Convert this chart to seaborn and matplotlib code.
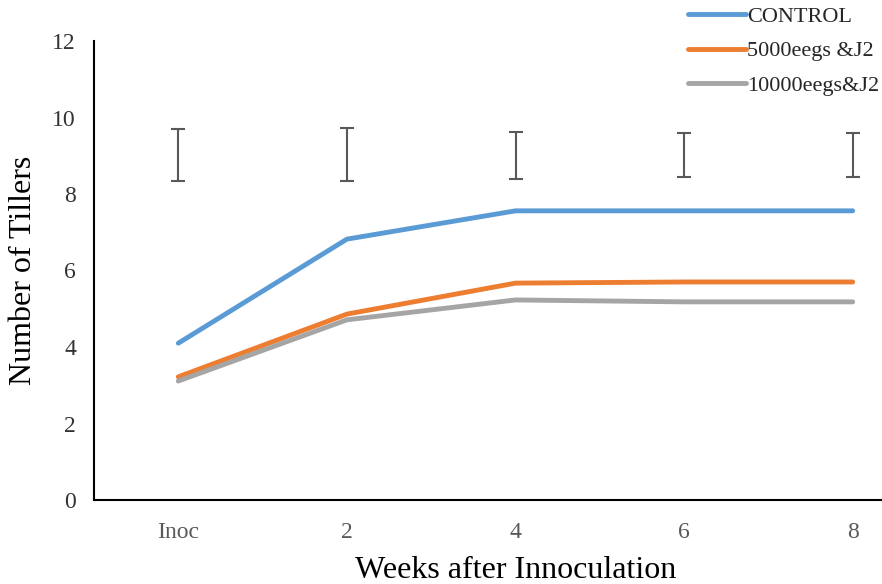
import pandas as pd
import matplotlib.pyplot as plt
import seaborn as sns

sns.set_style("white")
plt.rcParams['font.family'] = ['Liberation Serif', 'DejaVu Serif']

weeks = ["Inoc", "2", "4", "6", "8"]
control = [4.10, 6.82, 7.56, 7.56, 7.56]
eggs_5000 = [3.22, 4.86, 5.67, 5.70, 5.70]
eggs_10000 = [3.11, 4.71, 5.23, 5.18, 5.18]
err_top = [9.69, 9.72, 9.61, 9.60, 9.60]
err_bottom = [8.33, 8.33, 8.40, 8.44, 8.44]

names = ["CONTROL", "5000eegs &J2", "10000eegs&J2"]
colors = ["#5B9BD5", "#ED7D31", "#A5A5A5"]

df = pd.DataFrame({
    "week": weeks * 3,
    "tillers": control + eggs_5000 + eggs_10000,
    "treatment": [names[0]] * 5 + [names[1]] * 5 + [names[2]] * 5,
})

fig = plt.figure(figsize=(8.82, 5.84), dpi=100)
ax = fig.add_axes([94 / 882, 84 / 584, 843 / 882, 459 / 584])

sns.lineplot(data=df, x="week", y="tillers", hue="treatment", palette=colors,
             linewidth=3.5, sort=False, ax=ax, legend=True)
for line in ax.get_lines():
    line.set_solid_capstyle("round")

mid = [(t + b) / 2 for t, b in zip(err_top, err_bottom)]
half = [(t - b) / 2 for t, b in zip(err_top, err_bottom)]
ax.errorbar(weeks, mid, yerr=half, fmt="none", ecolor="#595959",
            elinewidth=1.5, capsize=5, capthick=1.5)

ax.set_xlim(-0.5, 4.5)
ax.set_ylim(0, 12)
ax.set_yticks(range(0, 13, 2))
for s in ["top", "right"]:
    ax.spines[s].set_visible(False)
for s in ["left", "bottom"]:
    ax.spines[s].set_color("black")
    ax.spines[s].set_linewidth(1.5)
ax.tick_params(axis="x", colors="#595959", labelsize=17, length=0, pad=16)
ax.tick_params(axis="y", colors="#333333", labelsize=17, length=0, pad=13)
ax.set_xlabel("Weeks after Innoculation", fontsize=23, color="black", labelpad=9)
ax.set_ylabel("Number of Tillers", fontsize=23, color="black", labelpad=10)

handles, labels = ax.get_legend_handles_labels()
ax.get_legend().remove()
fig.legend(handles, labels, loc="upper left", bbox_to_anchor=(679 / 882, 1.004),
           frameon=False, fontsize=16, handlelength=2.6, handletextpad=0.05,
           labelspacing=0.62, borderaxespad=0)

fig.savefig("out.png", dpi=100)
